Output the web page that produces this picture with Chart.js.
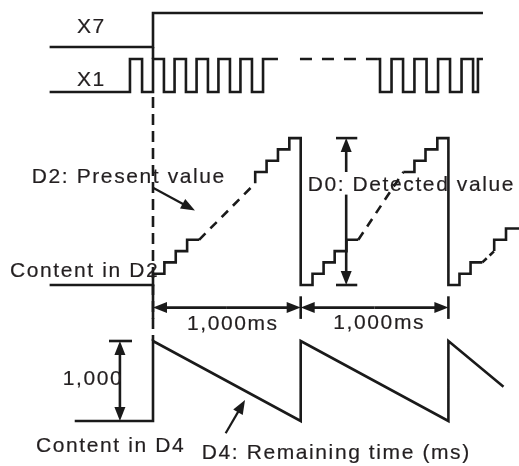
<!DOCTYPE html>
<html><head><meta charset="utf-8">
<script src="https://cdn.jsdelivr.net/npm/chart.js@4/dist/chart.umd.min.js"></script>
<style>html,body{margin:0;padding:0;background:#fff;overflow:hidden}#wrap{width:519px;height:466px}</style>
</head><body><div id="wrap"><canvas id="c" width="519" height="466"></canvas></div>
<script>
// ---------------- DATA (time in ms, X7 rises at t = 0) ----------------
// X7 input: step points (time, level)
const X7_T = [-700, 0, 2234];
const X7_V = [0, 1, 1];
// X1 pulse input, first burst: step points (time, level)
const X1_A_T = [-700, -156, -74, 0, 74, 146, 223, 295, 372, 443, 521, 592, 670, 745, 846];
const X1_A_V = [0, 1, 0, 1, 0, 1, 0, 1, 0, 1, 0, 1, 0, 1, 1];
// X1 omitted pulses (dashed)
const X1_GAP_T = [995, 1523];
const X1_GAP_V = [1, 1];
// X1 second burst
const X1_B_T = [1523, 1537, 1615, 1693, 1770, 1852, 1930, 2011, 2089, 2167, 2200, 2234];
const X1_B_V = [1, 0, 1, 0, 1, 0, 1, 0, 1, 0, 1, 1];
// D2 present value (pulse count), solid and dashed pieces
const D2_A_T = [-700, 0, 77, 154, 231, 312];
const D2_A_V = [0, 1, 2, 3, 4, 4];
const D2_DASH1_T = [312, 692];
const D2_DASH1_V = [4, 9];
const D2_B_T = [692, 692, 769, 846, 923, 1000, 1080, 1155, 1230, 1310, 1390];
const D2_B_V = [9, 10, 11, 12, 13, 0, 1, 2, 3, 4, 4];
const D2_DASH2_T = [1390, 1695];
const D2_DASH2_V = [4, 10];
const D2_C_T = [1695, 1770, 1845, 1925, 2000, 2075, 2150, 2230];
const D2_C_V = [10, 11, 12, 13, 0, 1, 2, 2];
const D2_DASH3_T = [2230, 2310];
const D2_DASH3_V = [2, 3];
const D2_D_T = [2310, 2310, 2390, 2500];
const D2_D_V = [3, 4, 5, 5];
// D4 remaining time (ms)
const D4_T = [-530, 0, 0, 1000, 1000, 2000, 2000, 2373];
const D4_V = [0, 0, 1000, 0, 1000, 0, 1000, 428];
// Labels
const LBL_X7 = "X7", LBL_X1 = "X1";
const LBL_D2 = "D2: Present value", LBL_D2C = "Content in D2";
const LBL_D0 = "D0: Detected value", LBL_MS = "1,000ms";
const LBL_1000 = "1,000", LBL_D4C = "Content in D4", LBL_D4 = "D4: Remaining time (ms)";

// ---------------- LAYOUT ----------------
const W = 519, H = 466;
const ORIGIN_PX = 153, PX_PER_MS = 0.1477;
function lane(basePx, pxPerUnit){ return {min: -(H - basePx)/pxPerUnit, max: basePx/pxPerUnit}; }
const LANES = {
  yX7: lane(47, 34),
  yX1: lane(92, 33),
  yD2: lane(285, 11.3),
  yD4: lane(421, 0.08)
};
const INK = '#1a1a1a';
const LW = 2.6;

function pts(T, V){ return T.map((t, i) => ({x: t, y: V[i]})); }
function ds(T, V, axis, opts){
  return Object.assign({data: pts(T, V), yAxisID: axis, xAxisID: 'x', borderColor: INK,
    borderWidth: LW, pointRadius: 0, fill: false, tension: 0, clip: false, stepped: false}, opts || {});
}

const datasets = [
  ds(X7_T, X7_V, 'yX7', {stepped: true}),
  ds(X1_A_T, X1_A_V, 'yX1', {stepped: true}),
  ds(X1_GAP_T, X1_GAP_V, 'yX1', {borderDash: [12, 10]}),
  ds(X1_B_T, X1_B_V, 'yX1', {stepped: true}),
  ds(D2_A_T, D2_A_V, 'yD2', {stepped: true}),
  ds(D2_DASH1_T, D2_DASH1_V, 'yD2', {borderDash: [9, 7]}),
  ds(D2_B_T, D2_B_V, 'yD2', {stepped: true}),
  ds(D2_DASH2_T, D2_DASH2_V, 'yD2', {borderDash: [9, 7]}),
  ds(D2_C_T, D2_C_V, 'yD2', {stepped: true}),
  ds(D2_DASH3_T, D2_DASH3_V, 'yD2', {borderDash: [6, 4]}),
  ds(D2_D_T, D2_D_V, 'yD2', {stepped: true}),
  ds(D4_T, D4_V, 'yD4', {})
];

// annotation geometry (data coordinates on given axis)
const SEGMENTS = [
  {axis: 'yD2', a: [0, 0], b: [0, -3]},
  {axis: 'yD2', a: [1000, -1], b: [1000, -3]},
  {axis: 'yD2', a: [2000, -1], b: [2000, -3]},
  {axis: 'yD2', a: [1239, 13], b: [1383, 13]},
  {axis: 'yD2', a: [1239, 0], b: [1383, 0]},
  {axis: 'yD4', a: [-298, 1000], b: [-142, 1000]}
];
const ARROWS = [
  {axis: 'yD2', a: [500, -2], b: [0, -2]},
  {axis: 'yD2', a: [500, -2], b: [1000, -2]},
  {axis: 'yD2', a: [1500, -2], b: [1000, -2]},
  {axis: 'yD2', a: [1500, -2], b: [2000, -2]},
  {axis: 'yD2', a: [1308, 8], b: [1308, 0]},
  {axis: 'yD2', a: [1308, 10], b: [1308, 13]},
  {axis: 'yD4', a: [-224, 500], b: [-224, 1000]},
  {axis: 'yD4', a: [-224, 500], b: [-224, 0]},
  {axis: 'yD2', a: [0, 8.6], b: [284, 6.6], thin: true},
  {axis: 'yD4', a: [492, -154], b: [623, 262], thin: true}
];
const TEXTS = [
  {s: LBL_X7, axis: 'yX7', t: -515, v: 0.4},
  {s: LBL_X1, axis: 'yX1', t: -515, v: 0.18},
  {s: LBL_D2, axis: 'yD2', t: -821, v: 9.05},
  {s: LBL_D2C, axis: 'yD2', t: -968, v: 0.73},
  {s: LBL_D0, axis: 'yD2', t: 1047, v: 8.35},
  {s: LBL_MS, axis: 'yD2', t: 230, v: -3.98},
  {s: LBL_MS, axis: 'yD2', t: 1221, v: -3.9},
  {s: LBL_1000, axis: 'yD4', t: -611, v: 450},
  {s: LBL_D4C, axis: 'yD4', t: -792, v: -384},
  {s: LBL_D4, axis: 'yD4', t: 330, v: -475}
];

const overlay = {
  id: 'overlay',
  afterDatasetsDraw(chart){
    const ctx = chart.ctx, sx = chart.scales.x;
    const P = (axis, p) => [sx.getPixelForValue(p[0]), chart.scales[axis].getPixelForValue(p[1])];
    ctx.save();
    ctx.strokeStyle = INK; ctx.fillStyle = INK; ctx.lineCap = 'butt';
    // guide line at X7 rising edge
    const gx = sx.getPixelForValue(0);
    const yTop = chart.scales.yX7.getPixelForValue(0);
    const yX1hi = chart.scales.yX1.getPixelForValue(1);
    const yX1lo = chart.scales.yX1.getPixelForValue(0);
    const yEnd = chart.scales.yD4.getPixelForValue(1000);
    ctx.lineWidth = LW;
    ctx.beginPath(); ctx.moveTo(gx, yTop); ctx.lineTo(gx, yX1hi); ctx.stroke();
    ctx.setLineDash([11, 6]);
    ctx.beginPath(); ctx.moveTo(gx, yX1lo + 5); ctx.lineTo(gx, yEnd); ctx.stroke();
    ctx.setLineDash([]);
    // plain segments
    for (const s of SEGMENTS){
      const a = P(s.axis, s.a), b = P(s.axis, s.b);
      ctx.beginPath(); ctx.moveTo(a[0], a[1]); ctx.lineTo(b[0], b[1]); ctx.stroke();
    }
    // arrows
    for (const ar of ARROWS){
      const a = P(ar.axis, ar.a), b = P(ar.axis, ar.b);
      const ang = Math.atan2(b[1]-a[1], b[0]-a[0]);
      const L = 14, Wd = 11;
      const bx = b[0] - L*Math.cos(ang), by = b[1] - L*Math.sin(ang);
      ctx.lineWidth = ar.thin ? 2.2 : LW;
      ctx.beginPath(); ctx.moveTo(a[0], a[1]); ctx.lineTo(bx + 2*Math.cos(ang), by + 2*Math.sin(ang)); ctx.stroke();
      ctx.beginPath();
      ctx.moveTo(b[0], b[1]);
      ctx.lineTo(bx + Wd/2*Math.sin(ang), by - Wd/2*Math.cos(ang));
      ctx.lineTo(bx - Wd/2*Math.sin(ang), by + Wd/2*Math.cos(ang));
      ctx.closePath(); ctx.fill();
    }
    // texts
    ctx.font = '21px "Liberation Sans", Arial, sans-serif';
    ctx.fillStyle = '#231f20'; ctx.strokeStyle = '#231f20'; ctx.lineWidth = 0.2;
    ctx.textBaseline = 'alphabetic'; ctx.textAlign = 'left';
    try { ctx.letterSpacing = '1.6px'; } catch(e) {}
    for (const tx of TEXTS){
      const p = P(tx.axis, [tx.t, tx.v]);
      ctx.fillText(tx.s, p[0], p[1]);
      ctx.strokeText(tx.s, p[0], p[1]);
    }
    ctx.restore();
  }
};

const scales = {
  x: {type: 'linear', display: false, min: -ORIGIN_PX/PX_PER_MS, max: (W - ORIGIN_PX)/PX_PER_MS}
};
for (const k in LANES){ scales[k] = {type: 'linear', display: false, min: LANES[k].min, max: LANES[k].max}; }

new Chart(document.getElementById('c'), {
  type: 'line',
  data: {datasets},
  options: {
    responsive: false, animation: false, events: [],
    layout: {padding: 0},
    plugins: {legend: {display: false}, tooltip: {enabled: false}, title: {display: false}},
    scales
  },
  plugins: [overlay]
});
</script>
</body></html>
